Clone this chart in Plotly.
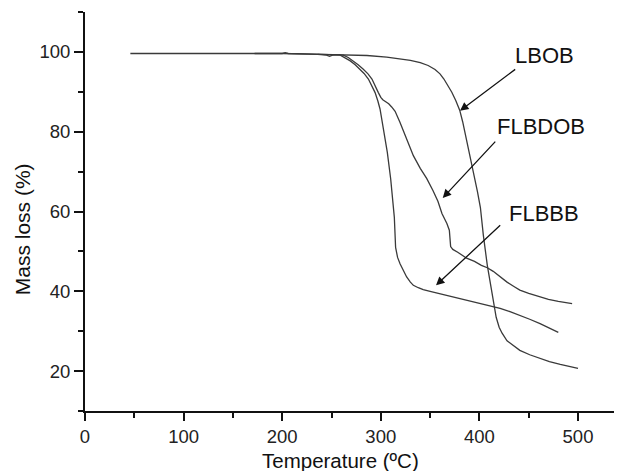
import plotly.graph_objects as go

# ---- data ----
lbob_x = [46, 120, 200, 240, 270, 286, 306, 320, 330, 340, 348, 355, 360, 364, 368, 372, 376, 380,
          383, 386, 389, 392, 395, 398, 401, 404, 408, 412, 414, 417, 420, 423, 428, 435, 441, 451,
          461, 471, 482, 491, 500]
lbob_y = [99.6, 99.6, 99.6, 99.4, 99.3, 99.1, 98.7, 98.3, 97.9, 97.3, 96.6, 95.6, 94.5, 93.2, 91.7,
          89.9, 87.8, 85.4, 82.5, 79.0, 75.6, 72.2, 69.0, 65.0, 61.0, 54.0, 46.5, 40.5, 37.0, 33.5,
          31.0, 29.5, 27.6, 26.2, 25.2, 24.1, 23.2, 22.4, 21.7, 21.2, 20.7]

flbdob_x = [172, 200, 203, 206, 240, 255, 262, 267, 272, 277, 282, 287, 291, 294, 297.5, 300, 302,
            305, 308, 311, 314.5, 319.5, 326, 333, 340, 346.5, 353, 358, 362, 367, 369.5, 370.2,
            370.8, 373, 378, 387, 395, 402, 408, 414, 420, 428, 435, 441, 450, 461, 470, 480, 494]
flbdob_y = [99.6, 99.6, 99.8, 99.6, 99.4, 99.3, 99.2, 98.6, 97.75, 96.8, 95.7, 94.5, 93.2, 91.8,
            89.8, 88.6, 88.0, 87.5, 87.0, 86.2, 85.1, 82.3, 78.2, 74.0, 70.8, 68.3, 65.2, 62.5,
            59.5, 57.0, 55.3, 53.0, 51.2, 50.5, 49.8, 48.3, 47.5, 46.5, 45.9, 45.0, 43.8, 42.3,
            41.2, 40.3, 39.5, 38.6, 38.0, 37.5, 36.9]

flbbb_x = [236, 245, 248, 251, 258, 263, 269, 274, 279, 283, 287.4, 291, 294.2, 297, 299.2, 302.6,
           306.6, 310, 312.5, 313.7, 315, 317, 319.5, 323, 326.2, 330, 333, 338, 343, 350, 356.6,
           367, 380, 390, 400, 410, 421, 431, 441, 451, 461.5, 471, 480]
flbbb_y = [99.4, 99.2, 98.9, 99.2, 99.3, 98.6, 97.75, 96.8, 95.7, 94.6, 93.2, 91.6, 89.8, 87.7,
           85.7, 80.7, 74.8, 68.2, 62.0, 58.6, 51.0, 48.5, 46.9, 45.0, 43.6, 42.3, 41.5, 40.9,
           40.4, 40.0, 39.6, 39.0, 38.2, 37.5, 36.9, 36.3, 35.7, 34.9, 34.0, 33.0, 31.9, 30.8, 29.7]

series_names = ["LBOB", "FLBDOB", "FLBBB"]
# label text centres and arrow (tail -> head) in data units
label_pos = [(466.5, 99.1), (462.0, 81.3), (465.5, 59.4)]
arrow_tail = [(437.8, 95.9), (417.5, 77.9), (422.6, 56.9)]
arrow_head = [(380.3, 85.25), (362.8, 63.4), (356.0, 41.5)]

x_ticks = [0, 100, 200, 300, 400, 500]
y_ticks = [20, 40, 60, 80, 100]

FONT = "Liberation Sans, Arial, sans-serif"
LINE = "#3a3a3a"

fig = go.Figure()
for xs, ys, nm in [(lbob_x, lbob_y, "LBOB"), (flbdob_x, flbdob_y, "FLBDOB"), (flbbb_x, flbbb_y, "FLBBB")]:
    fig.add_trace(go.Scatter(x=xs, y=ys, mode="lines", name=nm,
                             line=dict(color=LINE, width=1.3)))

annotations = []
for nm, (tx, ty) in zip(series_names, label_pos):
    annotations.append(dict(x=tx, y=ty, xref="x", yref="y", text=nm, showarrow=False,
                            font=dict(family=FONT, size=22, color="#111")))
for (ax, ay), (hx, hy) in zip(arrow_tail, arrow_head):
    annotations.append(dict(x=hx, y=hy, ax=ax, ay=ay, xref="x", yref="y", axref="x", ayref="y",
                            text="", showarrow=True, arrowhead=2, arrowsize=1.3, arrowwidth=1.3,
                            arrowcolor="#111", standoff=0, startstandoff=0))
annotations.append(dict(x=0.4758, y=-0.125, xref="paper", yref="paper", text="Temperature (ºC)",
                        showarrow=False, font=dict(family=FONT, size=20.5, color="#111"),
                        xanchor="center", yanchor="middle"))
annotations.append(dict(x=-0.117, y=0.456, xref="paper", yref="paper", text="Mass loss (%)",
                        showarrow=False, textangle=-90, font=dict(family=FONT, size=21, color="#111"),
                        xanchor="center", yanchor="middle"))

fig.update_layout(
    width=622, height=471,
    margin=dict(l=77, r=8, t=4, b=68),
    paper_bgcolor="white", plot_bgcolor="white",
    showlegend=False,
    annotations=annotations,
    xaxis=dict(range=[0, 544.6], tickvals=x_ticks, ticks="outside", ticklen=8, tickwidth=1.8,
               tickcolor="#111", showline=True, linecolor="#111", linewidth=2, showgrid=False,
               zeroline=False, tickfont=dict(family=FONT, size=18.5, color="#222"),
               minor=dict(dtick=50, tick0=0, ticks="outside", ticklen=4.5, tickwidth=1.5,
                          tickcolor="#111", showgrid=False)),
    yaxis=dict(range=[10, 110], tickvals=y_ticks, ticks="outside", ticklen=9, tickwidth=1.8,
               tickcolor="#111", showline=True, linecolor="#111", linewidth=2, showgrid=False,
               zeroline=False, tickfont=dict(family=FONT, size=18.5, color="#222"),
               minor=dict(dtick=10, tick0=0, ticks="outside", ticklen=5, tickwidth=1.5,
                          tickcolor="#111", showgrid=False)),
)

fig.write_html("out.html")
